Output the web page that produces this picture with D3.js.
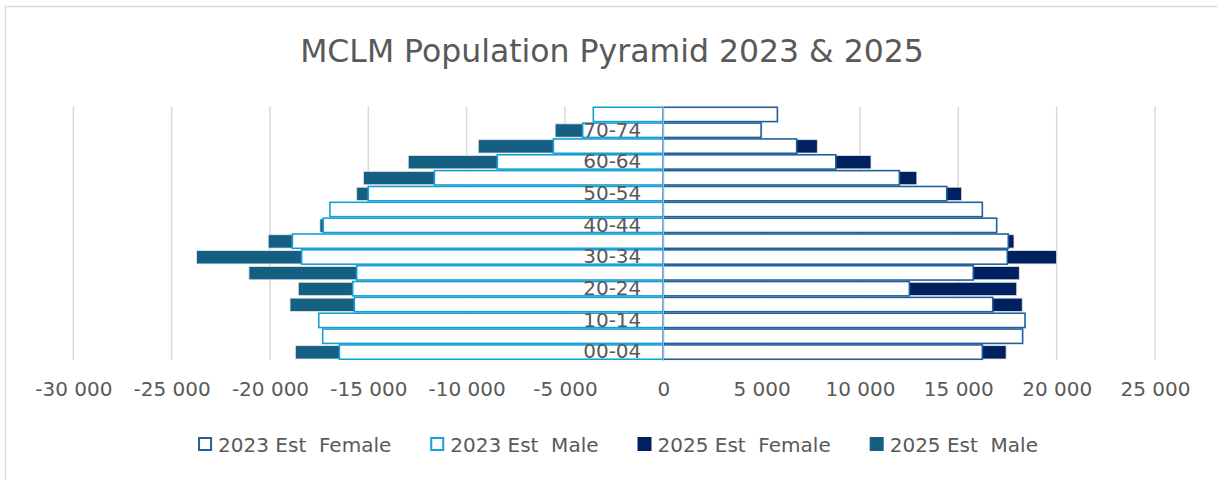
<!DOCTYPE html>
<html>
<head>
<meta charset="utf-8">
<script src="https://cdn.jsdelivr.net/npm/d3@7"></script>
<style>
  body { margin: 0; background: #fff; }
  svg { display: block; font-family: "DejaVu Sans", sans-serif; }
</style>
</head>
<body>
<div id="chart"></div>
<script>
// age groups, bottom to top
const ageGroups = ["00-04", "05-09", "10-14", "15-19", "20-24", "25-29", "30-34", "35-39",
  "40-44", "45-49", "50-54", "55-59", "60-64", "65-69", "70-74", "75+"];

const female2023 = [16220, 18270, 18390, 16750, 12510, 15760, 17490, 17540,
  16950, 16220, 14410, 12000, 8770, 6780, 4970, 5800];
const male2023 = [16470, 17320, 17520, 15710, 15790, 15590, 18390, 18860,
  17290, 16950, 15000, 11640, 8440, 5590, 4100, 3560];
// null = hidden behind the 2023 bar in the picture
const female2025 = [17430, null, null, 18250, 17970, 18100, 20000, 17830,
  null, null, 15170, 12890, 10560, 7830, null, null];
const male2025 = [18710, null, null, 18980, 18560, 21070, 23730, 20090,
  17460, null, 15590, 15250, 12970, 9410, 5500, null];

const xTicks = [-30000, -25000, -20000, -15000, -10000, -5000, 0, 5000, 10000, 15000, 20000, 25000];
const seriesNames = ["2023 Est  Female", "2023 Est  Male", "2025 Est  Female", "2025 Est  Male"];
const titleText = "MCLM Population Pyramid 2023 & 2025";

const colors = {
  f23: "#22609c",
  m23: "#17a0d8",
  f25: "#002060",
  m25: "#156082"
};
const textColor = "#595959";

const width = 1217;
const height = 480;

const svg = d3
  .select("#chart")
  .append("svg")
  .attr("width", width)
  .attr("height", height);

// chart border (cropped at right and bottom)
svg
  .append("rect")
  .attr("x", 5.5)
  .attr("y", 6.5)
  .attr("width", 1400)
  .attr("height", 600)
  .attr("fill", "#fff")
  .attr("stroke", "#d9d9d9")
  .attr("stroke-width", 1.5);

const x = d3.scaleLinear().domain([-30000, 25000]).range([73.3, 1155]);
const y = d3
  .scaleBand()
  .domain(ageGroups.slice().reverse())
  .range([106.5, 360])
  .padding(0);
const bw = y.bandwidth();

// gridlines
svg
  .append("g")
  .selectAll("line")
  .data(xTicks)
  .enter()
  .append("line")
  .attr("x1", (d) => x(d))
  .attr("x2", (d) => x(d))
  .attr("y1", 106.5)
  .attr("y2", 360)
  .attr("stroke", "#d9d9d9")
  .attr("stroke-width", 1.5);

const rows = ageGroups.map((age, i) => ({
  age: age,
  f23: female2023[i],
  m23: male2023[i],
  f25: female2025[i],
  m25: male2025[i]
}));

// 2025 bars behind
function drawBars(key, sign, filled) {
  const data = rows.filter((d) => d[key] != null);
  const g = svg.append("g");
  g.selectAll("rect")
    .data(data)
    .enter()
    .append("rect")
    .attr("x", (d) => (sign > 0 ? x(0) : x(-d[key])))
    .attr("width", (d) => Math.abs(x(sign * d[key]) - x(0)))
    .attr("y", (d) => (filled ? y(d.age) + 1.5 : y(d.age) + 0.75))
    .attr("height", filled ? bw - 2.5 : bw - 1.5)
    .attr("fill", filled ? colors[key] : "#fff")
    .attr("stroke", filled ? "#e6e6e6" : colors[key])
    .attr("stroke-width", filled ? 0.8 : 1.6);
}

drawBars("m25", -1, true);
drawBars("f25", 1, true);
drawBars("m23", -1, false);
drawBars("f23", 1, false);

// vertical axis line at zero
svg
  .append("line")
  .attr("x1", x(0))
  .attr("x2", x(0))
  .attr("y1", 106)
  .attr("y2", 361)
  .attr("stroke", "#9fc4e6")
  .attr("stroke-width", 1.2);

// category labels (every other one)
const yAxis = svg
  .append("g")
  .attr("transform", `translate(${x(0)},0)`)
  .call(
    d3
      .axisLeft(y)
      .tickValues(ageGroups.filter((d, i) => i % 2 === 0))
      .tickSize(0)
      .tickPadding(22)
  );
yAxis.select(".domain").remove();
yAxis
  .selectAll("text")
  .attr("font-size", 20)
  .attr("font-family", "DejaVu Sans")
  .attr("fill", textColor);

// value axis labels
const locale = d3.formatLocale({
  decimal: ",",
  thousands: " ",
  grouping: [3],
  currency: ["", ""],
  minus: "-"
});
const fmt = locale.format(",d");

const xAxis = svg
  .append("g")
  .attr("transform", "translate(0,360)")
  .call(d3.axisBottom(x).tickValues(xTicks).tickFormat(fmt).tickSize(0).tickPadding(22));
xAxis.select(".domain").remove();
xAxis
  .selectAll("text")
  .attr("font-size", 20)
  .attr("font-family", "DejaVu Sans")
  .attr("fill", textColor);

// title
svg
  .append("text")
  .attr("x", 612)
  .attr("y", 62)
  .attr("text-anchor", "middle")
  .attr("font-size", 31.5)
  .attr("fill", textColor)
  .text(titleText);

// legend
const legendKeys = ["f23", "m23", "f25", "m25"];
const legend = svg.append("g");
const items = legendKeys.map((key, i) => {
  const g = legend.append("g");
  if (i < 2) {
    g.append("rect")
      .attr("x", 1)
      .attr("y", 438)
      .attr("width", 12)
      .attr("height", 12)
      .attr("fill", "#fff")
      .attr("stroke", colors[key])
      .attr("stroke-width", 2);
  } else {
    g.append("rect")
      .attr("x", 0)
      .attr("y", 437)
      .attr("width", 14)
      .attr("height", 14)
      .attr("fill", colors[key]);
  }
  const t = g
    .append("text")
    .attr("x", 20)
    .attr("y", 451.5)
    .attr("font-size", 20)
    .attr("fill", textColor)
    .style("white-space", "pre")
    .text(seriesNames[i]);
  return { g: g, w: 20 + t.node().getComputedTextLength() };
});
const gap = 39;
const total = d3.sum(items, (d) => d.w) + gap * (items.length - 1);
let lx = 618 - total / 2;
items.forEach((it) => {
  it.g.attr("transform", `translate(${lx},0)`);
  lx += it.w + gap;
});
</script>
</body>
</html>
